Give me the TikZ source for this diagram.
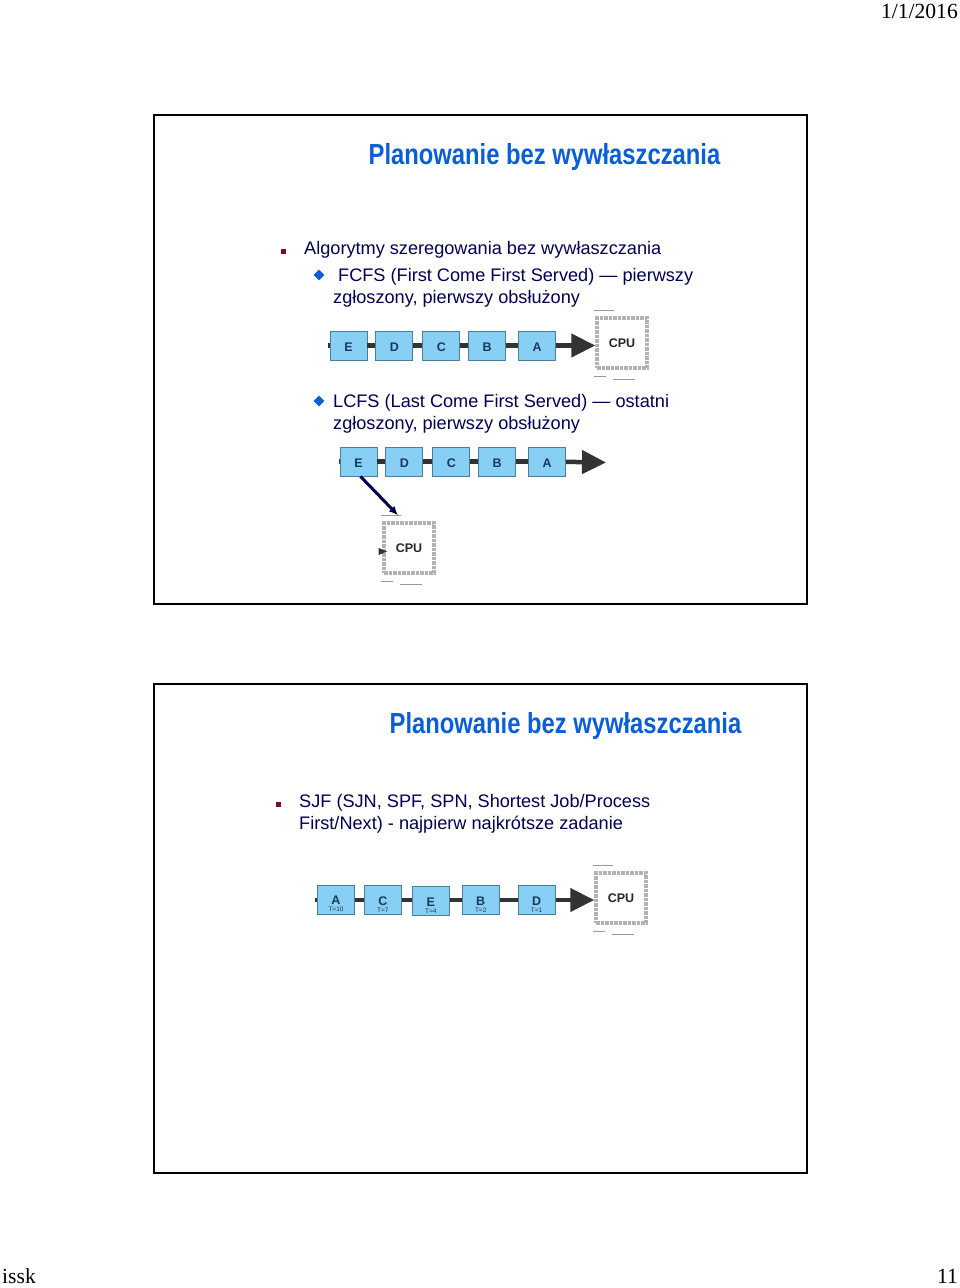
\documentclass[tikz,border=0pt]{standalone}
\usepackage{fontspec}
\setmainfont{Liberation Sans}
\newfontfamily\serifpage{Liberation Serif}
\newfontfamily\titlefont[FakeStretch=0.82]{Liberation Sans Bold}
\usetikzlibrary{arrows.meta,positioning,shapes.geometric}
\definecolor{slidenavy}{HTML}{000050}
\definecolor{slideblue}{HTML}{0B5FD6}
\definecolor{bulletred}{HTML}{7A1020}
\definecolor{jobfill}{HTML}{88CFF5}
\definecolor{jobdraw}{HTML}{4A7F9A}
\definecolor{jobtext}{HTML}{1A3A5C}
\definecolor{queuegray}{HTML}{333333}
\newcommand{\timedlabel}[2]{\raisebox{0pt}[17pt][0pt]{#1}\\[-6pt]{\mdseries\fontsize{6.5}{6.5}\selectfont #2}}
\tikzset{
  slide/.style={draw=black, line width=2pt, minimum width=653pt, minimum height=489pt, inner sep=0pt},
  slidetitle/.style={font=\titlefont\fontsize{29}{33}\selectfont, text=slideblue, inner sep=0pt},
  bodytext/.style={font=\fontsize{18.15}{22}\selectfont, text=slidenavy, align=left, anchor=west, inner sep=0pt},
  pagetext/.style={font=\serifpage\fontsize{21.6}{25}\selectfont, text=black, inner sep=0pt},
  squarebullet/.style={fill=bulletred, minimum size=5pt, inner sep=0pt},
  diamondbullet/.style={diamond, fill=slideblue, minimum size=11pt, inner sep=0pt},
  job/.style={draw=jobdraw, line width=0.9pt, fill=jobfill, minimum width=37pt, minimum height=29pt, inner sep=0pt, text=jobtext, font=\bfseries\fontsize{12.5}{13}\selectfont, align=center, execute at begin node=\rule{0pt}{11.5pt}},
  queueline/.style={draw=queuegray, line width=4.5pt},
  queuearrow/.style={-{Triangle[length=24pt,width=23pt]}, draw=queuegray, fill=queuegray, line width=4.5pt},
  cpubox/.style={draw=black!30, densely dotted, line width=3.5pt, fill=white, minimum width=50pt, minimum height=50pt, inner sep=0pt, text=black!85, font=\bfseries\fontsize{12.5}{14}\selectfont},
  cpumark/.style={draw=black!40, line width=0.7pt},
  navyarrow/.style={-{Latex[length=9pt,width=8pt]}, draw=slidenavy, line width=3pt}
}
\begin{document}
\begin{tikzpicture}[x=1pt,y=-1pt]
\useasboundingbox[fill=white] (0,0) rectangle (960,1288);
\node[pagetext, anchor=east] (date) at (958,11) {1/1/2016};
\node[pagetext, anchor=base west] (issk) at (2,1283) {issk};
\node[pagetext, anchor=base east] (pageno) at (958,1283) {11};

% first slide
\node[slide] (slidea) at (480.5,359.5) {};
\node[slidetitle] (titlea) at (544.5,156.5) {Planowanie bez wywłaszczania};
\node[squarebullet] (bulleta) at (283,251) {};
\node[bodytext] (algo) at (304,250) {Algorytmy szeregowania bez wywłaszczania};
\node[diamondbullet] (fcfsmark) at (319,275) {};
\node[bodytext] (fcfs) at (333,287.5) {\hspace*{5pt}FCFS (First Come First Served) — pierwszy\\zgłoszony, pierwszy obsłużony};
\node[job] (ea) at (348.5,345.5) {E};
\node[job, right=8pt of ea] (da) {D};
\node[job, right=9pt of da] (ca) {C};
\node[job, right=8pt of ca] (ba) {B};
\node[job, right=12pt of ba] (aa) {A};
\node[cpubox] (cpua) at (622,343) {CPU};
\coordinate (taila) at (328,345.5);
\draw[queueline] (taila) -- (ea);
\draw[queueline] (ea) -- (da);
\draw[queueline] (da) -- (ca);
\draw[queueline] (ca) -- (ba);
\draw[queueline] (ba) -- (aa);
\draw[queuearrow] (aa) -- (cpua.west |- aa);

\node[diamondbullet] (lcfsmark) at (319,401) {};
\node[bodytext] (lcfs) at (333,413.5) {LCFS (Last Come First Served) — ostatni\\zgłoszony, pierwszy obsłużony};
\node[job] (eb) at (358.5,461.5) {E};
\node[job, right=8pt of eb] (db) {D};
\node[job, right=9pt of db] (cb) {C};
\node[job, right=8pt of cb] (bb) {B};
\node[job, right=12pt of bb] (ab) {A};
\coordinate (tailb) at (339,461.5);
\coordinate (headb) at (606,462.5);
\draw[queueline] (tailb) -- (eb);
\draw[queueline] (eb) -- (db);
\draw[queueline] (db) -- (cb);
\draw[queueline] (cb) -- (bb);
\draw[queueline] (bb) -- (ab);
\draw[queuearrow] (ab) -- (headb);
\node[cpubox] (cpub) at (409,548) {CPU};
\draw[navyarrow] ([xshift=2pt]eb.south) -- ([shift={(-11,-6)}]cpub.north);
\node[isosceles triangle, fill=queuegray, minimum size=7pt, inner sep=0pt] (waitb) at (381,551.5) {};

% second slide
\node[slide] (slideb) at (480.5,928.5) {};
\node[slidetitle] (titleb) at (565.5,726) {Planowanie bez wywłaszczania};
\node[squarebullet] (bulletb) at (278,804) {};
\node[bodytext] (sjf) at (299,813.5) {SJF (SJN, SPF, SPN, Shortest Job/Process\\First/Next) - najpierw najkrótsze zadanie};
\node[job] (ac) at (336,900) {\timedlabel{A}{T=10}};
\node[job, right=9pt of ac] (cc) {\timedlabel{C}{T=7}};
\node[job, right=10pt of cc, yshift=-1pt] (ec) {\timedlabel{E}{T=4}};
\node[job, right=12pt of ec, yshift=1pt] (bc) {\timedlabel{B}{T=2}};
\node[job, right=18pt of bc] (dc) {\timedlabel{D}{T=1}};
\node[cpubox] (cpuc) at (621,898) {CPU};
\coordinate (tailc) at (315,900);
\draw[queueline] (tailc) -- (ac);
\draw[queueline] (ac) -- (cc);
\draw[queueline] (cc) -- (cc -| ec.west);
\draw[queueline] (cc -| ec.east) -- (bc);
\draw[queueline] (bc) -- (dc);
\draw[queuearrow] (dc) -- (cpuc.west |- dc);

% small marks round each cpu
\foreach \c in {cpua,cpub,cpuc}{
  \draw[cpumark] ([shift={(-1,-6)}]\c.north west) -- ++(20,0);
  \draw[cpumark] ([shift={(-1,7)}]\c.south west) -- ++(12,0);
  \draw[cpumark] ([shift={(18,10)}]\c.south west) -- ++(22,0);
}
\end{tikzpicture}
\end{document}
